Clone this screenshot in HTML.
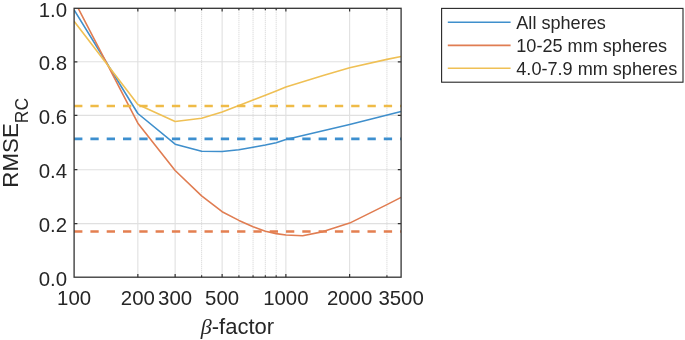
<!DOCTYPE html><html><head><meta charset="utf-8"><style>html,body{margin:0;padding:0;background:#fff;}body{width:685px;height:340px;overflow:hidden;}svg{display:block;}text{font-family:"Liberation Sans",sans-serif;fill:#262626;}svg{will-change:transform;}</style></head><body>
<svg width="685" height="340" viewBox="0 0 685 340">
<g stroke="#e0e0e0" stroke-width="1.1"><line x1="74.1" x2="401.1" y1="61.80" y2="61.80"/><line x1="74.1" x2="401.1" y1="115.40" y2="115.40"/><line x1="74.1" x2="401.1" y1="169.70" y2="169.70"/><line x1="74.1" x2="401.1" y1="223.60" y2="223.60"/><line x1="137.85" x2="137.85" y1="8.3" y2="277.2"/><line x1="175.14" x2="175.14" y1="8.3" y2="277.2"/><line x1="222.13" x2="222.13" y1="8.3" y2="277.2"/><line x1="285.88" x2="285.88" y1="8.3" y2="277.2"/><line x1="349.63" x2="349.63" y1="8.3" y2="277.2"/></g>
<g stroke="#d6d6d6" stroke-width="1.1" stroke-dasharray="1 1"><line x1="201.60" x2="201.60" y1="8.3" y2="277.2"/><line x1="238.90" x2="238.90" y1="8.3" y2="277.2"/><line x1="253.07" x2="253.07" y1="8.3" y2="277.2"/><line x1="265.35" x2="265.35" y1="8.3" y2="277.2"/><line x1="276.19" x2="276.19" y1="8.3" y2="277.2"/><line x1="386.92" x2="386.92" y1="8.3" y2="277.2"/></g>
<g fill="none" stroke-width="1.6" stroke-linejoin="round">
<clipPath id="c"><rect x="74.1" y="8.3" width="327.0" height="268.9"/></clipPath>
<g clip-path="url(#c)">
<polyline points="74.10,10.00 137.85,113.50 175.14,144.20 201.60,151.20 222.13,151.50 238.90,149.80 253.07,147.30 265.35,145.00 276.19,142.70 285.88,139.50 349.63,124.50 401.10,111.50" stroke="#3f8fcc"/>
<polyline points="74.10,0.40 137.85,123.20 175.14,170.50 201.60,195.80 222.13,211.70 238.90,220.40 253.07,226.80 265.35,231.20 276.19,233.60 285.88,235.00 302.65,235.70 323.17,231.60 349.63,223.10 386.92,204.60 401.10,197.40" stroke="#e07d52"/>
<polyline points="74.10,21.20 137.85,104.40 175.14,121.50 201.60,118.30 222.13,112.00 238.90,105.50 253.07,100.00 265.35,95.20 276.19,91.00 285.88,87.00 323.17,75.50 349.63,67.80 386.92,59.40 401.10,56.50" stroke="#efc055"/>
</g></g>
<g stroke-width="2.6" stroke-dasharray="8.3 8.0">
<line x1="74.1" x2="401.1" y1="138.9" y2="138.9" stroke="#3d8fcf"/>
<line x1="74.1" x2="401.1" y1="231.5" y2="231.5" stroke="#e47f50"/>
<line x1="74.1" x2="401.1" y1="106" y2="106" stroke="#efbb47"/>
</g>
<path d="M74.1,223.60h3.3M401.1,223.60h-3.3M74.1,169.70h3.3M401.1,169.70h-3.3M74.1,115.40h3.3M401.1,115.40h-3.3M74.1,61.80h3.3M401.1,61.80h-3.3M137.85,277.2v-3.3M137.85,8.3v3.3M175.14,277.2v-3.3M175.14,8.3v3.3M222.13,277.2v-3.3M222.13,8.3v3.3M285.88,277.2v-3.3M285.88,8.3v3.3M349.63,277.2v-3.3M349.63,8.3v3.3M201.60,277.2v-2M201.60,8.3v2M238.90,277.2v-2M238.90,8.3v2M253.07,277.2v-2M253.07,8.3v2M265.35,277.2v-2M265.35,8.3v2M276.19,277.2v-2M276.19,8.3v2M386.92,277.2v-2M386.92,8.3v2" stroke="#333333" stroke-width="1.2" fill="none"/>
<rect x="74.1" y="8.3" width="327.0" height="268.9" fill="none" stroke="#333333" stroke-width="1.3"/>
<text x="67" y="285.70" font-size="20.4" text-anchor="end">0.0</text>
<text x="67" y="232.10" font-size="20.4" text-anchor="end">0.2</text>
<text x="67" y="178.20" font-size="20.4" text-anchor="end">0.4</text>
<text x="67" y="123.90" font-size="20.4" text-anchor="end">0.6</text>
<text x="67" y="70.30" font-size="20.4" text-anchor="end">0.8</text>
<text x="67" y="16.80" font-size="20.4" text-anchor="end">1.0</text>
<text x="74.10" y="305" font-size="20.4" text-anchor="middle">100</text>
<text x="137.85" y="305" font-size="20.4" text-anchor="middle">200</text>
<text x="175.14" y="305" font-size="20.4" text-anchor="middle">300</text>
<text x="222.13" y="305" font-size="20.4" text-anchor="middle">500</text>
<text x="285.88" y="305" font-size="20.4" text-anchor="middle">1000</text>
<text x="349.63" y="305" font-size="20.4" text-anchor="middle">2000</text>
<text x="401.10" y="305" font-size="20.4" text-anchor="middle">3500</text>
<text x="237.5" y="333.6" font-size="22" text-anchor="middle"><tspan font-family="Liberation Serif" font-style="italic">β</tspan>-factor</text>
<text transform="translate(17.7,142.8) rotate(-90)" font-size="22.3" text-anchor="middle">RMSE<tspan font-size="17.5" dy="10.6">RC</tspan></text>
<rect x="441.6" y="8.4" width="241.4" height="73.8" fill="#fff" stroke="#262626" stroke-width="1.1"/>
<line x1="447.8" x2="510.6" y1="22.3" y2="22.3" stroke="#3f8fcc" stroke-width="1.6"/>
<text x="516.3" y="29.4" font-size="18.1">All spheres</text>
<line x1="447.8" x2="510.6" y1="45.4" y2="45.4" stroke="#e07d52" stroke-width="1.6"/>
<text x="516.3" y="52.2" font-size="18.1">10-25 mm spheres</text>
<line x1="447.8" x2="510.6" y1="68.2" y2="68.2" stroke="#efc055" stroke-width="1.6"/>
<text x="516.3" y="75.1" font-size="18.1">4.0-7.9 mm spheres</text>
</svg></body></html>
